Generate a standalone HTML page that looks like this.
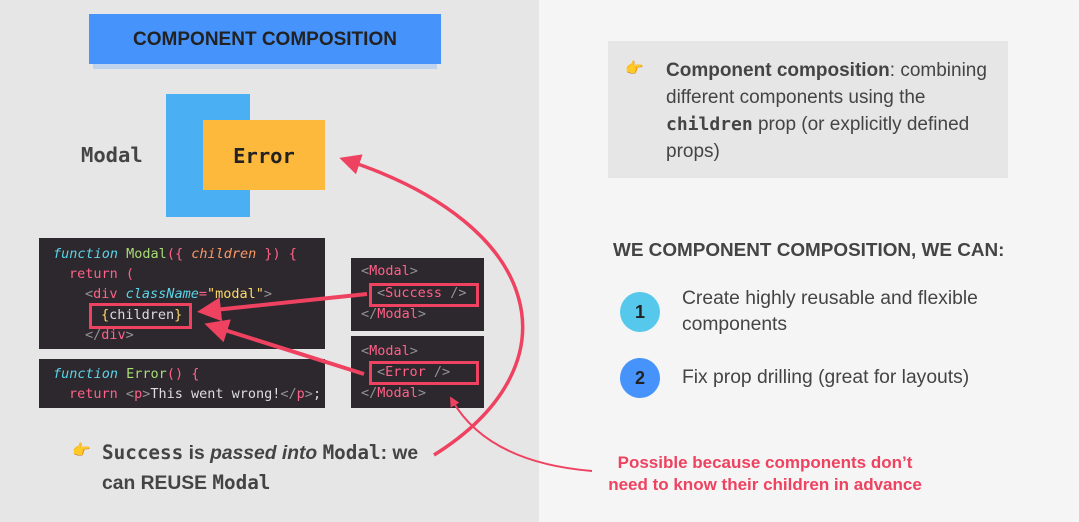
<!DOCTYPE html>
<html><head><meta charset="utf-8"><style>
body{margin:0;width:1079px;height:522px;position:relative;overflow:hidden;background:#f5f5f5;font-family:"Liberation Sans",sans-serif;color:#444}
.a{position:absolute}
.mono{font-family:"DejaVu Sans Mono","Liberation Mono",monospace}
.code{background:#2c282e;position:absolute;font-family:"DejaVu Sans Mono","Liberation Mono",monospace;font-size:13.5px;color:#ddd;white-space:pre}
.code div{position:absolute;left:14px}
.k{color:#5ad4e6;font-style:italic}.g{color:#a9dc76}.o{color:#fc9867}.p{color:#ff6188}.gr{color:#939293}.y{color:#ffd866}
.rb{position:absolute;border:3px solid #ee4260;box-sizing:border-box}
</style></head><body>
<div class="a" style="left:0;top:0;width:539px;height:522px;background:#e6e6e6"></div>
<div class="a" style="left:93px;top:60px;width:344px;height:9px;background:#bfd3ee"></div>
<div class="a" style="left:89px;top:14px;width:352px;height:50px;background:#4694fb;font-weight:bold;font-size:19px;color:#222;text-align:center;line-height:52px">COMPONENT COMPOSITION</div>
<div class="a mono" style="left:81px;top:143px;font-size:20.5px;font-weight:bold;color:#444">Modal</div>
<div class="a" style="left:166px;top:94px;width:84px;height:123px;background:#4aaff3"></div>
<div class="a mono" style="left:203px;top:120px;width:122px;height:70px;background:#fdb93c;font-size:20.5px;font-weight:bold;color:#222;text-align:center;line-height:72px">Error</div>

<div class="code" style="left:39px;top:238px;width:286px;height:111px">
<div style="top:8px"><span class="k">function</span> <span class="g">Modal</span><span class="p">({</span> <span class="o" style="font-style:italic">children</span> <span class="p">}) {</span></div>
<div style="top:28px;left:30px"><span class="p">return (</span></div>
<div style="top:48px;left:46px"><span class="gr">&lt;</span><span class="p">div</span> <span class="k">className</span><span class="p">=</span><span class="y">"modal"</span><span class="gr">&gt;</span></div>
<div style="top:69px;left:62px"><span class="y">{</span>children<span class="y">}</span></div>
<div style="top:89px;left:46px"><span class="gr">&lt;/</span><span class="p">div</span><span class="gr">&gt;</span></div>
</div>
<div class="code" style="left:39px;top:359px;width:286px;height:49px">
<div style="top:7px"><span class="k">function</span> <span class="g">Error</span><span class="p">() {</span></div>
<div style="top:27px;left:30px"><span class="p">return</span> <span class="gr">&lt;</span><span class="p">p</span><span class="gr">&gt;</span>This went wrong!<span class="gr">&lt;/</span><span class="p">p</span><span class="gr">&gt;</span>;</div>
</div>
<div class="code" style="left:351px;top:258px;width:133px;height:73px">
<div style="top:5px;left:10px"><span class="gr">&lt;</span><span class="p">Modal</span><span class="gr">&gt;</span></div>
<div style="top:27px;left:26px"><span class="gr">&lt;</span><span class="p">Success</span> <span class="gr">/&gt;</span></div>
<div style="top:48px;left:10px"><span class="gr">&lt;/</span><span class="p">Modal</span><span class="gr">&gt;</span></div>
</div>
<div class="code" style="left:351px;top:336px;width:133px;height:72px">
<div style="top:7px;left:10px"><span class="gr">&lt;</span><span class="p">Modal</span><span class="gr">&gt;</span></div>
<div style="top:28px;left:26px"><span class="gr">&lt;</span><span class="p">Error</span> <span class="gr">/&gt;</span></div>
<div style="top:49px;left:10px"><span class="gr">&lt;/</span><span class="p">Modal</span><span class="gr">&gt;</span></div>
</div>
<div class="rb" style="left:89px;top:303px;width:103px;height:26px"></div>
<div class="rb" style="left:369px;top:283px;width:110px;height:24px"></div>
<div class="rb" style="left:369px;top:361px;width:110px;height:24px"></div>

<svg class="a" style="left:0;top:0" width="1079" height="522">
<defs><marker id="m" markerWidth="6" markerHeight="6" refX="4" refY="3" orient="auto" markerUnits="strokeWidth"><path d="M0,0 L6,3 L0,6z" fill="#ee4260"/></marker>
<marker id="m2" markerWidth="10" markerHeight="10" refX="6" refY="5" orient="auto" markerUnits="userSpaceOnUse"><path d="M0,0 L10,5 L0,10z" fill="#ee4260"/></marker></defs>
<g stroke="#ee4260" fill="none">
<line x1="367" y1="294" x2="205" y2="311" stroke-width="4" marker-end="url(#m)"/>
<line x1="364" y1="374" x2="212" y2="326" stroke-width="4" marker-end="url(#m)"/>
<path d="M434,455 C578,365 545,225 346,160" stroke-width="3.5" marker-end="url(#m)"/>
<path d="M592,471 C520,465 475,440 452,400" stroke-width="2" marker-end="url(#m2)"/>
</g></svg>

<div class="a" style="left:72px;top:441px;font-size:15px">👉</div>
<div class="a" style="left:102px;top:438px;font-size:19.3px;font-weight:bold;line-height:29px;color:#444;white-space:nowrap"><span class="mono">Success</span> is <i>passed into</i> <span class="mono">Modal</span>: we<br>can REUSE <span class="mono">Modal</span></div>
<div class="a" style="left:575px;top:452px;width:380px;text-align:center;color:#ee4260;font-weight:bold;font-size:17px;line-height:22px">Possible because components don’t<br>need to know their children in advance</div>

<div class="a" style="left:608px;top:41px;width:400px;height:137px;background:#e6e6e6"></div>
<div class="a" style="left:625px;top:59px;font-size:15px">👉</div>
<div class="a" style="left:666px;top:57px;font-size:19px;line-height:27px;color:#444;white-space:nowrap"><b>Component composition</b>: combining<br>different components using the<br><b class="mono" style="font-size:18px">children</b> prop (or explicitly defined<br>props)</div>
<div class="a" style="left:613px;top:240px;font-size:18.9px;font-weight:bold;color:#444;white-space:nowrap">WE COMPONENT COMPOSITION, WE CAN:</div>
<div class="a" style="left:620px;top:292px;width:40px;height:40px;border-radius:50%;background:#56c8ec;text-align:center;line-height:40px;font-weight:bold;font-size:18px;color:#222">1</div>
<div class="a" style="left:620px;top:358px;width:40px;height:40px;border-radius:50%;background:#4694fb;text-align:center;line-height:40px;font-weight:bold;font-size:18px;color:#222">2</div>
<div class="a" style="left:682px;top:286px;font-size:19.3px;line-height:26px;white-space:nowrap">Create highly reusable and flexible<br>components</div>
<div class="a" style="left:682px;top:365px;font-size:19.3px;line-height:26px;white-space:nowrap">Fix prop drilling (great for layouts)</div>
</body></html>
